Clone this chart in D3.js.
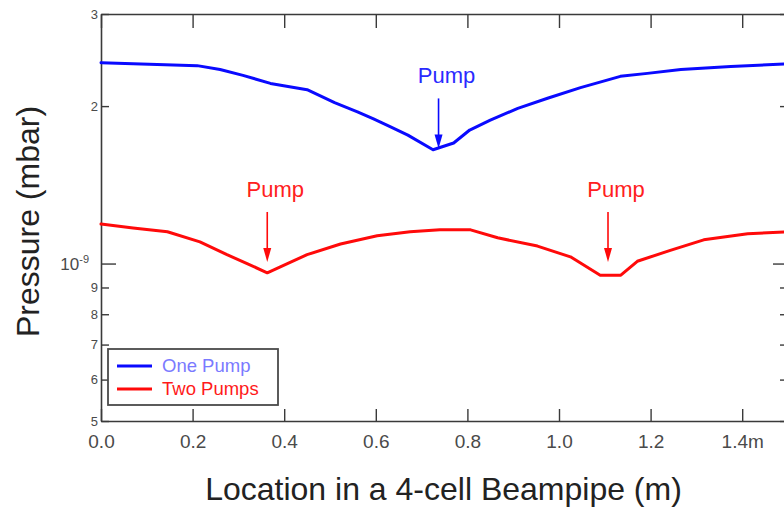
<!DOCTYPE html>
<html>
<head>
<meta charset="utf-8">
<script src="https://cdn.jsdelivr.net/npm/d3@7"></script>
<style>
  html, body { margin: 0; padding: 0; background: #fff; }
  svg { display: block; font-family: "Liberation Sans", Arial, Helvetica, sans-serif; }
</style>
</head>
<body>
<svg id="chart" width="784" height="507"></svg>
<script>
// ---- data ----
const onePumpX = [0, 0.07, 0.21, 0.26, 0.31, 0.37, 0.45, 0.51, 0.56, 0.595, 0.63, 0.67, 0.725, 0.77, 0.805, 0.85, 0.91, 0.975, 1.047, 1.134, 1.193, 1.266, 1.375, 1.5];
const onePumpP = [2.42e-9, 2.41e-9, 2.39e-9, 2.35e-9, 2.29e-9, 2.21e-9, 2.15e-9, 2.03e-9, 1.95e-9, 1.89e-9, 1.83e-9, 1.76e-9, 1.65e-9, 1.70e-9, 1.80e-9, 1.88e-9, 1.98e-9, 2.07e-9, 2.17e-9, 2.28e-9, 2.31e-9, 2.35e-9, 2.38e-9, 2.41e-9];
const twoPumpX = [0, 0.07, 0.145, 0.216, 0.275, 0.319, 0.363, 0.407, 0.45, 0.523, 0.603, 0.675, 0.74, 0.807, 0.866, 0.953, 1.025, 1.09, 1.135, 1.171, 1.243, 1.316, 1.412, 1.5];
const twoPumpP = [1.19e-9, 1.17e-9, 1.15e-9, 1.10e-9, 1.04e-9, 1.00e-9, 0.96e-9, 1.00e-9, 1.04e-9, 1.09e-9, 1.13e-9, 1.15e-9, 1.16e-9, 1.16e-9, 1.12e-9, 1.08e-9, 1.03e-9, 0.95e-9, 0.95e-9, 1.01e-9, 1.06e-9, 1.11e-9, 1.14e-9, 1.15e-9];
const seriesNames = ["One Pump", "Two Pumps"];
const seriesColors = ["#0a0aff", "#ff0a0a"];
const legendTextColors = ["#7a7aff", "#ff1a1a"];
const xTicks = [0, 0.2, 0.4, 0.6, 0.8, 1.0, 1.2, 1.4];
const yTicks = [3e-9, 2e-9, 1e-9, 9e-10, 8e-10, 7e-10, 6e-10, 5e-10];
const yTickLabels = ["3", "2", "10", "9", "8", "7", "6", "5"];
// pump annotations: x position, arrow tip pressure, series index
const pumpX = [0.737, 0.363, 1.107];
const pumpTip = [1.66e-9, 1.007e-9, 1.007e-9];
const pumpSeries = [0, 1, 1];

// ---- layout ----
const svg = d3.select("#chart");
const L = 101, R = 788, T = 14, B = 421;
const x = d3.scaleLinear().domain([0, 1.5]).range([L, R]);
const y = d3.scaleLog().domain([5e-10, 3e-9]).range([B, T]);
const axisColor = "#3a3a3a";

function styleAxis(g) {
  g.select(".domain").attr("stroke", axisColor).attr("stroke-width", 1.6);
  g.selectAll(".tick line").attr("stroke", axisColor).attr("stroke-width", 1.4);
  g.selectAll(".tick text").attr("fill", "#4a4a4a");
}

// bottom axis
const gx = svg.append("g").attr("transform", `translate(0,${B})`)
  .call(d3.axisBottom(x).tickValues(xTicks).tickSizeInner(-12).tickSizeOuter(0).tickPadding(14)
    .tickFormat(d => d === 1.4 ? "1.4m" : d3.format(".1f")(d)));
gx.selectAll(".tick text").attr("font-size", 19).attr("font-family", "Liberation Sans, Arial, sans-serif");
styleAxis(gx);

// top axis
const gt = svg.append("g").attr("transform", `translate(0,${T})`)
  .call(d3.axisTop(x).tickValues(xTicks).tickSizeInner(-14).tickSizeOuter(0).tickFormat(""));
styleAxis(gt);

// left axis
const gy = svg.append("g").attr("transform", `translate(${L},0)`)
  .call(d3.axisLeft(y).tickValues(yTicks).tickSizeInner(-8).tickSizeOuter(0).tickPadding(3)
    .tickFormat((d, i) => yTickLabels[i]));
styleAxis(gy);
gy.selectAll(".tick text").attr("font-size", 13).attr("font-family", "Liberation Sans, Arial, sans-serif");
gy.selectAll(".tick").filter(d => d === 1e-9).each(function() {
  const t = d3.select(this);
  t.select("line").attr("x2", 15);
  const txt = t.select("text").attr("font-size", 17).attr("x", -12);
  txt.append("tspan").attr("font-size", 11).attr("dy", "-0.6em").text("-9");
});

// right axis
const gr = svg.append("g").attr("transform", `translate(${R},0)`)
  .call(d3.axisRight(y).tickValues(yTicks).tickSizeInner(-8).tickSizeOuter(0).tickFormat(""));
styleAxis(gr);
gr.selectAll(".tick").filter(d => d === 1e-9).select("line").attr("x2", -15);

// series lines
const line = d3.line().x(d => x(d[0])).y(d => y(d[1]));
const series = [d3.zip(onePumpX, onePumpP), d3.zip(twoPumpX, twoPumpP)];
series.forEach((s, i) => {
  svg.append("path").datum(s).attr("d", line)
    .attr("fill", "none").attr("stroke", seriesColors[i]).attr("stroke-width", 3)
    .attr("stroke-linejoin", "round").attr("stroke-linecap", "round");
});

// pump annotations
pumpX.forEach((px, i) => {
  const c = seriesColors[pumpSeries[i]];
  const xt = x(px), tip = y(pumpTip[i]), tail = tip - 50;
  svg.append("line").attr("x1", xt).attr("x2", xt).attr("y1", tail).attr("y2", tip - 12)
    .attr("stroke", c).attr("stroke-width", 1.6);
  svg.append("path").attr("d", `M${xt - 4},${tip - 14}L${xt + 4},${tip - 14}L${xt},${tip}Z`).attr("fill", c);
  svg.append("text").attr("x", xt + 8).attr("y", tail - 15).attr("text-anchor", "middle")
    .attr("font-size", 22).attr("fill", pumpSeries[i] === 0 ? "#2a2aff" : "#ff2020").text("Pump");
});

// legend
const lg = svg.append("g");
lg.append("rect").attr("x", 108).attr("y", 349).attr("width", 170).attr("height", 56)
  .attr("fill", "#fff").attr("stroke", "#4a4a4a").attr("stroke-width", 1.8);
seriesNames.forEach((n, i) => {
  const yy = 366 + i * 23;
  lg.append("line").attr("x1", 117).attr("x2", 152).attr("y1", yy).attr("y2", yy)
    .attr("stroke", seriesColors[i]).attr("stroke-width", 3);
  lg.append("text").attr("x", 162).attr("y", yy + 6).attr("font-size", 18.5)
    .attr("fill", legendTextColors[i]).text(n);
});

// axis titles
svg.append("text").attr("x", (L + R) / 2 - 1).attr("y", 500).attr("text-anchor", "middle")
  .attr("font-size", 32).attr("fill", "#222").text("Location in a 4-cell Beampipe (m)");
svg.append("text").attr("transform", `translate(39,${(T + B) / 2 + 4}) rotate(-90)`)
  .attr("text-anchor", "middle").attr("font-size", 32).attr("fill", "#222").text("Pressure (mbar)");
</script>
</body>
</html>
